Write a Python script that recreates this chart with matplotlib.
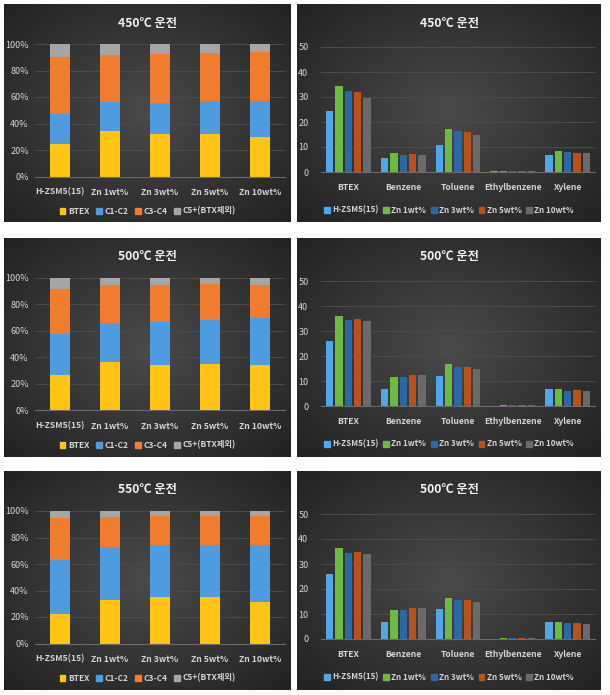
import numpy as np
import matplotlib
matplotlib.use("Agg")
import matplotlib.pyplot as plt
from matplotlib.colors import LinearSegmentedColormap
from matplotlib.patches import Patch

plt.rcParams["font.family"] = ["Noto Sans CJK KR", "DejaVu Sans"]

W, H = 610, 695

# ── data ─────────────────────────────────────────────────────────────────────
catalysts = ["H-ZSM5(15)", "Zn 1wt%", "Zn 3wt%", "Zn 5wt%", "Zn 10wt%"]
fractions = ["BTEX", "C1-C2", "C3-C4", "C5+(BTX제외)"]
aromatics = ["BTEX", "Benzene", "Toluene", "Ethylbenzene", "Xylene"]

# product distribution (%) per catalyst
btex_450 = [24.6, 34.7, 32.4, 32.1, 30.1]
c1c2_450 = [22.6, 21.6, 22.9, 24.9, 26.7]
c3c4_450 = [43.2, 35.4, 37.2, 36.5, 37.2]
c5_450 = [9.6, 8.3, 7.5, 6.5, 6.0]

btex_500 = [26.7, 36.5, 34.5, 35.3, 34.5]
c1c2_500 = [31.2, 29.5, 32.0, 32.7, 35.3]
c3c4_500 = [34.0, 28.5, 28.2, 27.2, 25.2]
c5_500 = [8.1, 5.5, 5.3, 4.8, 5.0]

btex_550 = [22.2, 33.2, 34.9, 34.9, 31.1]
c1c2_550 = [41.1, 39.5, 39.1, 39.6, 42.9]
c3c4_550 = [31.1, 23.0, 22.4, 21.9, 22.4]
c5_550 = [5.6, 4.3, 3.6, 3.6, 3.6]

# aromatics yield per catalyst (BTEX, Benzene, Toluene, Ethylbenzene, Xylene)
hzsm5_450 = [24.5, 5.6, 10.8, 0.3, 6.8]
zn1_450 = [34.5, 7.6, 17.2, 0.4, 8.6]
zn3_450 = [32.4, 6.7, 16.4, 0.3, 8.2]
zn5_450 = [32.1, 7.2, 16.2, 0.3, 7.8]
zn10_450 = [29.8, 6.7, 14.7, 0.3, 7.6]

hzsm5_500 = [26.0, 6.8, 11.9, 0.2, 6.8]
zn1_500 = [36.0, 11.7, 16.7, 0.5, 6.8]
zn3_500 = [34.3, 11.6, 15.6, 0.4, 6.1]
zn5_500 = [34.8, 12.3, 15.6, 0.4, 6.3]
zn10_500 = [34.1, 12.4, 14.8, 0.3, 6.0]

hzsm5_550 = [26.1, 6.9, 11.9, 0.2, 6.9]
zn1_550 = [36.3, 11.7, 16.5, 0.5, 6.9]
zn3_550 = [34.3, 11.6, 15.5, 0.4, 6.3]
zn5_550 = [34.9, 12.3, 15.5, 0.4, 6.3]
zn10_550 = [34.1, 12.5, 14.8, 0.3, 6.1]

# ── style ────────────────────────────────────────────────────────────────────
FRAC_C = ["#FFC414", "#4E9BE0", "#F07C30", "#A6A6A6"]
CAT_C = ["#4FA6E8", "#6CBB40", "#2A68A8", "#B9521A", "#6A6A6A"]
TXT = "#D4D4D4"
GRID = "#4C4C4C"
BG_CMAP = LinearSegmentedColormap.from_list("bg", ["#4A4A4A", "#363636", "#222222"])

fig = plt.figure(figsize=(W / 100, H / 100), dpi=100)
fig.patch.set_facecolor("white")


def rect(x0, y0, x1, y1):
    return [x0 / W, 1 - y1 / H, (x1 - x0) / W, (y1 - y0) / H]


def panel_bg(x0, y0, x1, y1, title):
    ax = fig.add_axes(rect(x0, y0, x1, y1))
    yy, xx = np.mgrid[-1:1:200j, -1:1:200j]
    r = np.sqrt(xx ** 2 + yy ** 2) / np.sqrt(2)
    ax.imshow(r, cmap=BG_CMAP, aspect="auto", extent=(0, 1, 0, 1), vmin=0, vmax=1)
    ax.set_xlim(0, 1)
    ax.set_ylim(0, 1)
    ax.axis("off")
    ax.text(0.5, 1 - 19 / (y1 - y0), title, color="#F0F0F0", fontsize=8.8,
            fontweight="bold", ha="center", va="center")
    return ax


def style_axes(ax):
    ax.set_facecolor("none")
    for s in ["top", "right", "left"]:
        ax.spines[s].set_visible(False)
    ax.spines["bottom"].set_color("#6A6A6A")
    ax.spines["bottom"].set_linewidth(0.8)
    ax.yaxis.grid(True, color=GRID, lw=0.7)
    ax.set_axisbelow(True)
    ax.tick_params(length=0, colors=TXT, labelsize=6.5)
    ax.set_xlim(-0.5, 4.5)


def stacked_panel(x0, y0, x1, y1, title, series):
    bg = panel_bg(x0, y0, x1, y1, title)
    ax = fig.add_axes(rect(x0 + 31, y0 + 40, x0 + 281, y0 + 172.5))
    style_axes(ax)
    x = np.arange(len(catalysts))
    bottom = np.zeros(len(catalysts))
    for vals, c in zip(series, FRAC_C):
        v = np.array(vals) / 100
        ax.bar(x, v, 0.4, bottom=bottom, color=c, zorder=2)
        bottom += v
    ax.set_ylim(0, 1)
    ax.set_yticks(np.arange(0, 1.01, 0.2))
    ax.set_yticklabels([f"{int(round(t * 100))}%" for t in np.arange(0, 1.01, 0.2)])
    ax.tick_params(axis="y", pad=4.5)
    ax.set_xticks(x)
    ax.set_xticklabels(catalysts, fontweight="bold", fontsize=6.2)
    ax.tick_params(axis="x", pad=8)
    handles = [Patch(color=c, label=l) for c, l in zip(FRAC_C, fractions)]
    bg.legend(handles=handles, loc="center", bbox_to_anchor=(0.5, 1 - 207 / (y1 - y0)),
              ncol=4, frameon=False, labelcolor=TXT,
              handlelength=0.7, handleheight=0.7, handletextpad=0.3,
              columnspacing=0.8, prop={"weight": "bold", "size": 6.0})


def grouped_panel(x0, y0, x1, y1, title, series):
    bg = panel_bg(x0, y0, x1, y1, title)
    ax = fig.add_axes(rect(x0 + 24, y0 + 43, x0 + 298, y0 + 168))
    style_axes(ax)
    x = np.arange(len(aromatics))
    for i, (vals, c) in enumerate(zip(series, CAT_C)):
        ax.bar(x + (i - 2) * 0.17, vals, 0.135, color=c, zorder=2)
    ax.set_ylim(0, 50)
    ax.set_yticks(range(0, 51, 10))
    ax.tick_params(axis="y", pad=9)
    ax.set_xticks(x)
    ax.set_xticklabels(aromatics, fontweight="bold", fontsize=6.2)
    ax.tick_params(axis="x", pad=8)
    handles = [Patch(color=c, label=l) for c, l in zip(CAT_C, catalysts)]
    bg.legend(handles=handles, loc="center", bbox_to_anchor=(0.5, 1 - 206 / (y1 - y0)),
              ncol=5, frameon=False, labelcolor=TXT,
              handlelength=0.7, handleheight=0.7, handletextpad=0.3,
              columnspacing=0.6, prop={"weight": "bold", "size": 5.8})


rows = [(4, 222), (238, 457), (471, 690)]
LX0, LX1 = 4, 291
RX0, RX1 = 297, 601

stacked_panel(LX0, rows[0][0], LX1, rows[0][1], "450℃ 운전",
              [btex_450, c1c2_450, c3c4_450, c5_450])
stacked_panel(LX0, rows[1][0], LX1, rows[1][1], "500℃ 운전",
              [btex_500, c1c2_500, c3c4_500, c5_500])
stacked_panel(LX0, rows[2][0], LX1, rows[2][1], "550℃ 운전",
              [btex_550, c1c2_550, c3c4_550, c5_550])

grouped_panel(RX0, rows[0][0], RX1, rows[0][1], "450℃ 운전",
              [hzsm5_450, zn1_450, zn3_450, zn5_450, zn10_450])
grouped_panel(RX0, rows[1][0], RX1, rows[1][1], "500℃ 운전",
              [hzsm5_500, zn1_500, zn3_500, zn5_500, zn10_500])
grouped_panel(RX0, rows[2][0], RX1, rows[2][1], "500℃ 운전",
              [hzsm5_550, zn1_550, zn3_550, zn5_550, zn10_550])

fig.savefig("out.png", dpi=100, facecolor="white")
